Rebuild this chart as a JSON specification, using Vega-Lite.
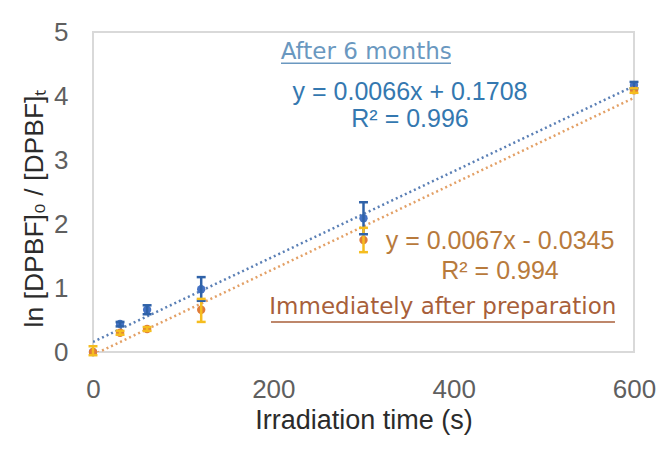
{
  "$schema": "https://vega.github.io/schema/vega-lite/v6.json",
  "width": 541,
  "height": 320,
  "autosize": "none",
  "padding": {"left": 93, "top": 32, "right": 32, "bottom": 100},
  "background": "white",
  "config": {
    "view": {"stroke": "#d9d9d9", "strokeWidth": 2},
    "font": "Liberation Sans",
    "axis": {
      "grid": false, "domain": false, "ticks": false, "labelFlush": false,
      "labelFontSize": 26, "labelColor": "#5f5f5f", "labelFont": "Liberation Sans",
      "titleFont": "Liberation Sans", "titleFontSize": 24, "titleColor": "#333333", "titleFontWeight": "normal"
    }
  },
  "datasets": {
    "points": [
      {"series": "After 6 months", "t": 0, "v": 0.0, "lo": null, "hi": null},
      {"series": "After 6 months", "t": 30, "v": 0.44, "lo": 0.40, "hi": 0.47},
      {"series": "After 6 months", "t": 60, "v": 0.66, "lo": 0.59, "hi": 0.73},
      {"series": "After 6 months", "t": 120, "v": 0.98, "lo": 0.80, "hi": 1.17},
      {"series": "After 6 months", "t": 300, "v": 2.09, "lo": 1.84, "hi": 2.34},
      {"series": "After 6 months", "t": 600, "v": 4.17, "lo": 4.12, "hi": 4.22},
      {"series": "Immediately after preparation", "t": 0, "v": 0.0, "lo": -0.05, "hi": 0.09},
      {"series": "Immediately after preparation", "t": 30, "v": 0.30, "lo": 0.27, "hi": 0.33},
      {"series": "Immediately after preparation", "t": 60, "v": 0.36, "lo": 0.33, "hi": 0.39},
      {"series": "Immediately after preparation", "t": 120, "v": 0.66, "lo": 0.47, "hi": 0.83},
      {"series": "Immediately after preparation", "t": 300, "v": 1.75, "lo": 1.56, "hi": 1.94},
      {"series": "Immediately after preparation", "t": 600, "v": 4.09, "lo": 4.05, "hi": 4.12}
    ]
  },
  "layer": [
    {
      "data": {"name": "points"},
      "transform": [{"regression": "v", "on": "t", "groupby": ["series"], "extent": [0, 600]}],
      "mark": {"type": "line", "strokeDash": [2, 3], "strokeWidth": 2.5, "clip": true},
      "encoding": {
        "x": {"field": "t", "type": "quantitative",
          "scale": {"domain": [0, 600], "nice": false, "zero": false},
          "axis": {"values": [0, 200, 400, 600], "format": "d", "labelPadding": 24, "title": "Irradiation time (s)", "titleFontSize": 27, "titleColor": "#2b2b2b", "titlePadding": 5}},
        "y": {"field": "v", "type": "quantitative",
          "scale": {"domain": [0, 5], "nice": false},
          "axis": {"values": [0, 1, 2, 3, 4, 5], "format": "d", "labelPadding": 25, "title": "ln [DPBF]₀ / [DPBF]ₜ", "titleFontSize": 26.5, "titleColor": "#2b2b2b", "titleX": -45, "titleY": 176}},
        "color": {"field": "series", "type": "nominal", "legend": null,
          "scale": {"domain": ["After 6 months", "Immediately after preparation"], "range": ["#5a7fb5", "#e3a066"]}}
      }
    },
    {
      "data": {"name": "points"},
      "mark": {"type": "point", "filled": true, "opacity": 1, "size": 70, "shape": "circle", "clip": false},
      "encoding": {
        "x": {"field": "t", "type": "quantitative"},
        "y": {"field": "v", "type": "quantitative"},
        "fill": {"field": "series", "type": "nominal", "legend": null,
          "scale": {"domain": ["After 6 months", "Immediately after preparation"], "range": ["#4472c4", "#e07b39"]}}
      }
    },
    {
      "data": {"name": "points"},
      "mark": {"type": "rule", "strokeWidth": 2.5, "clip": false},
      "encoding": {
        "x": {"field": "t", "type": "quantitative"},
        "y": {"field": "lo", "type": "quantitative"},
        "y2": {"field": "hi"},
        "stroke": {"field": "series", "type": "nominal", "legend": null,
          "scale": {"domain": ["After 6 months", "Immediately after preparation"], "range": ["#2f62a8", "#f5bd1f"]}}
      }
    },
    {
      "data": {"name": "points"},
      "mark": {"type": "point", "shape": "stroke", "size": 80, "strokeWidth": 2.5, "filled": false, "opacity": 1, "clip": false},
      "encoding": {
        "x": {"field": "t", "type": "quantitative"},
        "y": {"field": "lo", "type": "quantitative"},
        "stroke": {"field": "series", "type": "nominal", "legend": null}
      }
    },
    {
      "data": {"name": "points"},
      "mark": {"type": "point", "shape": "stroke", "size": 80, "strokeWidth": 2.5, "filled": false, "opacity": 1, "clip": false},
      "encoding": {
        "x": {"field": "t", "type": "quantitative"},
        "y": {"field": "hi", "type": "quantitative"},
        "stroke": {"field": "series", "type": "nominal", "legend": null}
      }
    },
    {
      "data": {"values": [{"n": 1}]},
      "mark": {"type": "text", "font": "DejaVu Sans", "fontSize": 23, "color": "#6a98c0", "baseline": "middle"},
      "encoding": {"x": {"datum": 303}, "y": {"datum": 4.69}, "text": {"value": "After 6 months"}}
    },
    {
      "data": {"values": [{"n": 1}]},
      "mark": {"type": "rule", "color": "#6a98c0", "strokeWidth": 1.5},
      "encoding": {"x": {"datum": 208.5}, "x2": {"datum": 397}, "y": {"datum": 4.51}}
    },
    {
      "data": {"values": [{"n": 1}]},
      "mark": {"type": "text", "font": "Liberation Sans", "fontSize": 25, "color": "#3478b0", "baseline": "middle"},
      "encoding": {"x": {"datum": 351.6}, "y": {"datum": 4.06}, "text": {"value": "y = 0.0066x + 0.1708"}}
    },
    {
      "data": {"values": [{"n": 1}]},
      "mark": {"type": "text", "font": "Liberation Sans", "fontSize": 25, "color": "#3478b0", "baseline": "middle"},
      "encoding": {"x": {"datum": 351.6}, "y": {"datum": 3.64}, "text": {"value": "R² = 0.996"}}
    },
    {
      "data": {"values": [{"n": 1}]},
      "mark": {"type": "text", "font": "Liberation Sans", "fontSize": 25, "color": "#b87a3c", "baseline": "middle"},
      "encoding": {"x": {"datum": 451.4}, "y": {"datum": 1.73}, "text": {"value": "y = 0.0067x - 0.0345"}}
    },
    {
      "data": {"values": [{"n": 1}]},
      "mark": {"type": "text", "font": "Liberation Sans", "fontSize": 25, "color": "#b87a3c", "baseline": "middle"},
      "encoding": {"x": {"datum": 451.4}, "y": {"datum": 1.27}, "text": {"value": "R² = 0.994"}}
    },
    {
      "data": {"values": [{"n": 1}]},
      "mark": {"type": "text", "font": "DejaVu Sans", "fontSize": 23, "color": "#a85f3a", "baseline": "middle"},
      "encoding": {"x": {"datum": 388}, "y": {"datum": 0.70}, "text": {"value": "Immediately after preparation"}}
    },
    {
      "data": {"values": [{"n": 1}]},
      "mark": {"type": "rule", "color": "#a85f3a", "strokeWidth": 1.5},
      "encoding": {"x": {"datum": 197.4}, "x2": {"datum": 578.9}, "y": {"datum": 0.47}}
    }
  ]
}
